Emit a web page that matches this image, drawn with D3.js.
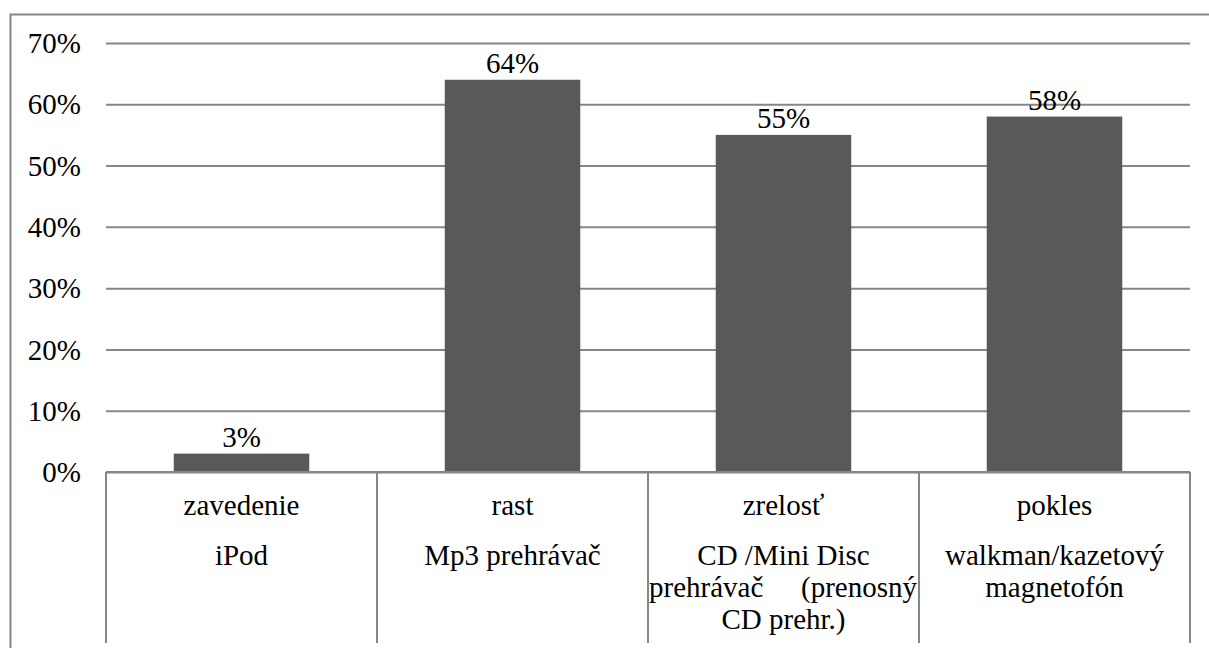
<!DOCTYPE html>
<html>
<head>
<meta charset="utf-8">
<script src="https://cdn.jsdelivr.net/npm/d3@7"></script>
<style>
  html, body { margin: 0; padding: 0; background: #fff; }
  svg { display: block; }
</style>
</head>
<body>
<svg id="chart" width="1209" height="648"></svg>
<script>
// Product life-cycle phases and the share for each phase
const phases = ["zavedenie", "rast", "zrelosť", "pokles"];
const products = [
  ["iPod"],
  ["Mp3 prehrávač"],
  ["CD /Mini Disc", "prehrávač (prenosný", "CD prehr.)"],
  ["walkman/kazetový", "magnetofón"]
];
const values = [3, 64, 55, 58];
const yTicks = [0, 10, 20, 30, 40, 50, 60, 70];

const svg = d3.select("#chart");
const W = 1209, H = 648;
const plotLeft = 106, plotRight = 1190, plotTop = 43, plotBase = 472;
const fontSize = 29;
const serif = '"Times New Roman", "Liberation Serif", Tinos, "DejaVu Serif", serif';
const gridColor = "#868686";

const x = d3.scaleBand().domain(phases).range([plotLeft, plotRight]).paddingInner(0.5).paddingOuter(0.25);
const y = d3.scaleLinear().domain([0, 70]).range([plotBase, plotTop]);
const step = x.step();
const gap = (step - x.bandwidth()) / 2;

const txt = sel => sel.attr("font-family", serif).attr("font-size", fontSize).attr("fill", "#000");

// outer frame (runs off the right and bottom edges)
svg.append("rect")
  .attr("x", 10.5).attr("y", 14.5).attr("width", W + 20).attr("height", H + 20)
  .attr("fill", "none").attr("stroke", gridColor).attr("stroke-width", 2);

// horizontal gridlines and percentage labels
const yAxis = d3.axisLeft(y).tickValues(yTicks).tickSize(-(plotRight - plotLeft)).tickPadding(25)
  .tickFormat(d => d + "%");
const gy = svg.append("g").attr("transform", `translate(${plotLeft},0)`).call(yAxis)
  .attr("font-family", serif).attr("font-size", fontSize);
gy.select(".domain").remove();
gy.selectAll(".tick line").attr("stroke", gridColor).attr("stroke-width", 2);
gy.selectAll(".tick text").call(txt).attr("dy", "0.33em");

// bars
svg.append("g").selectAll("rect").data(values).join("rect")
  .attr("x", (d, i) => x(phases[i]))
  .attr("y", d => y(d))
  .attr("width", x.bandwidth())
  .attr("height", d => plotBase - y(d))
  .attr("fill", "#595959");

// value labels
svg.append("g").selectAll("text").data(values).join("text")
  .attr("x", (d, i) => x(phases[i]) + x.bandwidth() / 2)
  .attr("y", d => y(d) - 7)
  .attr("text-anchor", "middle")
  .call(txt)
  .text(d => d + "%");

// baseline over the bars
svg.append("line")
  .attr("x1", plotLeft).attr("x2", plotRight).attr("y1", plotBase).attr("y2", plotBase)
  .attr("stroke", gridColor).attr("stroke-width", 2);

// category table: cell separators
const edges = phases.map(p => x(p) - gap).concat([plotRight]);
svg.append("g").selectAll("line").data(edges).join("line")
  .attr("x1", d => d).attr("x2", d => d)
  .attr("y1", plotBase).attr("y2", 643)
  .attr("stroke", gridColor).attr("stroke-width", 2);

// category labels
const lab = svg.append("g");
phases.forEach((p, i) => {
  const cx = x(p) + x.bandwidth() / 2;
  const x0 = x(p) - gap;
  lab.append("text").attr("x", cx).attr("y", 515).attr("text-anchor", "middle")
    .call(txt).text(p);
  products[i].forEach((line, j) => {
    const yy = 565 + j * 32;
    const words = line.split(" ");
    if (products[i].length > 2 && j === 1 && words.length > 1) {
      // justified line spanning the whole cell
      lab.append("text").attr("x", x0 + 1).attr("y", yy).attr("text-anchor", "start")
        .call(txt).text(words[0]);
      lab.append("text").attr("x", x0 + step - 2).attr("y", yy).attr("text-anchor", "end")
        .call(txt).text(words.slice(1).join(" "));
    } else {
      lab.append("text").attr("x", cx).attr("y", yy).attr("text-anchor", "middle")
        .call(txt).text(line);
    }
  });
});
</script>
</body>
</html>
